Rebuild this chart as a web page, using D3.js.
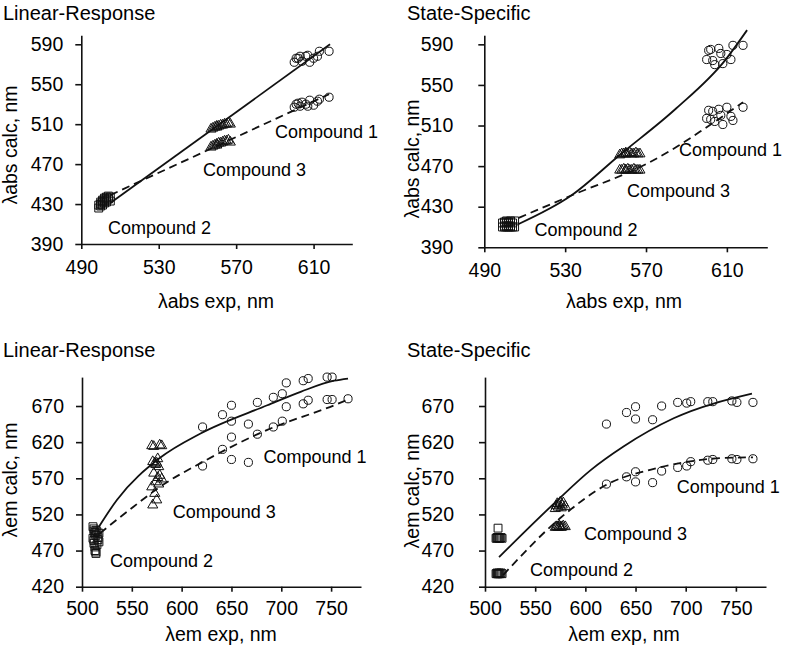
<!DOCTYPE html>
<html><head><meta charset="utf-8">
<script src="https://cdn.jsdelivr.net/npm/d3@7"></script>
<style>
body{margin:0;background:#fff;}
svg text{font-family:"Liberation Sans",Arial,sans-serif;fill:#000;}
</style>
</head><body>
<svg id="chart" width="785" height="647"></svg>
<script>
// ---------------- tick labels ----------------
const absXTicks = [490, 530, 570, 610];
const absYTicks = [390, 430, 470, 510, 550, 590];
const emXTicks = [500, 550, 600, 650, 700, 750];
const emYTicks = [420, 470, 520, 570, 620, 670];

// ---------------- experimental wavelengths (x values) ----------------
const absExpC1 = [600, 601, 602, 603, 604, 606, 607, 608, 610, 612, 613, 618];
const absExpC2 = [499, 500, 500, 501, 501, 502, 502, 503, 503, 504, 505];
const absExpC3 = [557, 558, 559, 560, 560, 561, 562, 563, 564, 565, 566, 567];
const emExpC1 = [621, 641, 650, 650, 667, 676, 692, 701, 705, 722, 727, 746, 751, 767];
const emExpC2 = [511, 512, 512, 513, 513, 514, 514, 515, 516, 517];
const emExpC3 = [570, 571, 572, 573, 574, 575, 576, 577, 578, 580];

// ---------------- calculated wavelengths (A = solid-fit set, B = dashed-fit set) ----------------
// Linear-Response, absorption
const lrAbsA_C1 = [572, 576, 576, 578, 573, 578, 579, 572, 576, 578, 583, 583];
const lrAbsB_C1 = [527, 530, 531, 528, 532, 530, 528, 534, 529, 533, 535, 537];
const lrAbsA_C2 = [426, 428, 430, 429, 432, 431, 433, 432, 434, 435, 433];
const lrAbsB_C2 = [429, 430, 432, 433, 434, 435, 436, 437, 436, 438, 437];
const lrAbsA_C3 = [505, 506, 507, 507, 508, 508, 509, 509, 510, 510, 511, 510];
const lrAbsB_C3 = [487, 488, 489, 489, 490, 491, 491, 492, 493, 493, 494, 492];
// State-Specific, absorption
const ssAbsA_C1 = [575, 584, 585, 574, 570, 586, 581, 571, 580, 575, 589, 589];
const ssAbsB_C1 = [517, 525, 516, 524, 514, 526, 520, 511, 528, 519, 515, 528];
const ssAbsA_C2 = [410, 410, 411, 410, 411, 410, 411, 410, 411, 410, 410];
const ssAbsB_C2 = [414, 415, 414, 416, 415, 414, 415, 416, 415, 414, 416];
const ssAbsA_C3 = [481, 482, 482, 483, 482, 482, 483, 482, 482, 483, 482, 482];
const ssAbsB_C3 = [466, 466, 467, 466, 466, 467, 466, 466, 467, 466, 466, 466];
// Linear-Response, emission
const lrEmA_C1 = [641, 658, 671, 649, 645, 675, 682, 687, 702, 705, 708, 710, 710, null];
const lrEmB_C1 = [587, 610, 627, 596, 592, 631, 641, 649, 669, 673, 678, 679, 679, 680];
const lrEmA_C2 = [503, 500, 497, 495, 493, 498, 491, 496, 488, 494];
const lrEmB_C2 = [487, 484, 480, 475, 470, 468, 466, 478, 485, 482];
const lrEmA_C3 = [615, 593, 614, 591, 589, 591, 597, 586, 616, 615];
const lrEmB_C3 = [558, 533, 577, 549, 565, 540, 571, 562, 574, 569];
// State-Specific, emission
const ssEmA_C1 = [645, 661, 669, 652, 651, 670, 675, 674, 676, 676, 676, 677, 675, 675];
const ssEmB_C1 = [562, 572, 579, 565, 564, 580, 585, 587, 593, 595, 596, 597, 596, 597];
const ssEmA_C2 = [487, 488, 487, 501, 488, 487, 488, 487, 488, 487];
const ssEmB_C2 = [438, 438, 439, 438, 438, 439, 438, 438, 439, 438];
const ssEmA_C3 = [528, 532, 535, 530, 534, 537, 529, 533, 536, 531];
const ssEmB_C3 = [502, 503, 503, 502, 504, 503, 502, 503, 504, 503];

// ---------------- trend lines ----------------
const lrAbsFitA_x = [505, 618.5], lrAbsFitA_y = [431, 590];
const lrAbsFitB_x = [505, 618], lrAbsFitB_y = [439, 540];
const ssAbsFitA_x = [507, 533, 557, 585, 609, 620], ssAbsFitA_y = [413, 441, 481, 527, 574, 604];
const ssAbsFitB_x = [507, 533, 571, 586, 599, 618], ssAbsFitB_y = [419, 441, 473, 490, 507, 533];
const lrEmFitA_x = [517, 535, 578, 619, 686, 720, 753, 767], lrEmFitA_y = [503, 540, 598, 632, 671, 690, 705, 708];
const lrEmFitB_x = [518, 552, 578, 619, 686, 753, 767], lrEmFitB_y = [494, 531, 558, 591, 637, 671, 679];
const ssEmFitA_x = [514, 571, 605, 638, 688, 766], ssEmFitA_y = [461, 538, 581, 614, 653, 687];
const ssEmFitB_x = [518, 575, 621, 671, 737, 767], ssEmFitB_y = [436, 515, 561, 584, 598, 599];

const compoundNames = ["Compound 1", "Compound 2", "Compound 3"];

// ---------------- panel layout ----------------
const panels = [
  { title: "Linear-Response", tx: 3, ty: 20,
    xLabel: "λabs exp, nm", yLabel: "λabs calc, nm",
    xDomain: [490, 630], yDomain: [390, 599], xTicks: absXTicks, yTicks: absYTicks,
    xr: [81.3, 352.3], yr: [244, 35.3], yPad: 12, xPad: 11,
    xlx: 216, xly: 308, ylx: 17, yly: 145,
    exp: [absExpC1, absExpC2, absExpC3],
    setA: [lrAbsA_C1, lrAbsA_C2, lrAbsA_C3], setB: [lrAbsB_C1, lrAbsB_C2, lrAbsB_C3],
    fitA: [lrAbsFitA_x, lrAbsFitA_y], fitB: [lrAbsFitB_x, lrAbsFitB_y],
    labels: [[590.1, 496.2], [503.8, 400.1], [552.9, 458.1]] },
  { title: "State-Specific", tx: 407, ty: 20,
    xLabel: "λabs exp, nm", yLabel: "λabs calc, nm",
    xDomain: [490, 630], yDomain: [390, 599], xTicks: absXTicks, yTicks: absYTicks,
    xr: [484.3, 767.3], yr: [247.3, 35.2], yPad: 25, xPad: 11,
    xlx: 624, xly: 308, ylx: 419, yly: 159,
    exp: [absExpC1, absExpC2, absExpC3],
    setA: [ssAbsA_C1, ssAbsA_C2, ssAbsA_C3], setB: [ssAbsB_C1, ssAbsB_C2, ssAbsB_C3],
    fitA: [ssAbsFitA_x, ssAbsFitA_y], fitB: [ssAbsFitB_x, ssAbsFitB_y],
    labels: [[586.3, 480.4], [514.8, 400.7], [560.6, 440]] },
  { title: "Linear-Response", tx: 3, ty: 357,
    xLabel: "λem exp, nm", yLabel: "λem calc, nm",
    xDomain: [500, 780], yDomain: [420, 710], xTicks: emXTicks, yTicks: emYTicks,
    xr: [82, 361], yr: [586.7, 377.1], yPad: 12, xPad: 9,
    xlx: 221, xly: 641, ylx: 17, yly: 480,
    exp: [emExpC1, emExpC2, emExpC3],
    setA: [lrEmA_C1, lrEmA_C2, lrEmA_C3], setB: [lrEmB_C1, lrEmB_C2, lrEmB_C3],
    fitA: [lrEmFitA_x, lrEmFitA_y], fitB: [lrEmFitB_x, lrEmFitB_y],
    labels: [[682.2, 591.2], [528.1, 447.7], [591.1, 515.6]] },
  { title: "State-Specific", tx: 407, ty: 357,
    xLabel: "λem exp, nm", yLabel: "λem calc, nm",
    xDomain: [500, 780], yDomain: [420, 710], xTicks: emXTicks, yTicks: emYTicks,
    xr: [485, 766], yr: [586.7, 377.1], yPad: 25, xPad: 9,
    xlx: 624, xly: 641, ylx: 419, yly: 491,
    exp: [emExpC1, emExpC2, emExpC3],
    setA: [ssEmA_C1, ssEmA_C2, ssEmA_C3], setB: [ssEmB_C1, ssEmB_C2, ssEmB_C3],
    fitA: [ssEmFitA_x, ssEmFitA_y], fitB: [ssEmFitB_x, ssEmFitB_y],
    labels: [[691, 549.7], [544.8, 434.9], [598.6, 484.7]] }
];

const svg = d3.select("#chart");
const INK = "#111";
const symbolTypes = [d3.symbolCircle, d3.symbolSquare, d3.symbolTriangle];
const symbolSizes = [52, 62, 44];

panels.forEach(p => {
  const g = svg.append("g");
  const x = d3.scaleLinear().domain(p.xDomain).range(p.xr);
  const y = d3.scaleLinear().domain(p.yDomain).range(p.yr);

  g.append("text").attr("x", p.tx).attr("y", p.ty)
    .attr("font-size", 20).text(p.title);

  const xa = g.append("g").attr("transform", `translate(0,${p.yr[0]})`)
    .call(d3.axisBottom(x).tickValues(p.xTicks).tickSize(5).tickSizeOuter(0).tickPadding(p.xPad).tickFormat(d3.format("d")));
  const ya = g.append("g").attr("transform", `translate(${p.xr[0]},0)`)
    .call(d3.axisLeft(y).tickValues(p.yTicks).tickSize(6).tickSizeOuter(0).tickPadding(p.yPad).tickFormat(d3.format("d")));
  [xa, ya].forEach(a => {
    a.attr("font-size", 19.5).attr("font-family", null);
    a.selectAll("path,line").attr("stroke", INK).attr("stroke-width", 1.6);
    a.selectAll("text").attr("fill", "#000");
  });

  g.append("text").attr("x", p.xlx).attr("y", p.xly).attr("text-anchor", "middle")
    .attr("font-size", 19.5).text(p.xLabel);
  g.append("text").attr("transform", `translate(${p.ylx},${p.yly}) rotate(-90)`)
    .attr("text-anchor", "middle").attr("font-size", 19.5).text(p.yLabel);

  const line = d3.line().x(d => x(d[0])).y(d => y(d[1])).curve(d3.curveMonotoneX);
  const fitPts = f => f[0].map((v, i) => [v, f[1][i]]);
  g.append("path").attr("d", line(fitPts(p.fitA)))
    .attr("fill", "none").attr("stroke", INK).attr("stroke-width", 1.8);
  g.append("path").attr("d", line(fitPts(p.fitB)))
    .attr("fill", "none").attr("stroke", INK).attr("stroke-width", 1.8)
    .attr("stroke-dasharray", "8,5");

  [0, 1, 2].forEach(c => {
    const sym = d3.symbol().type(symbolTypes[c]).size(symbolSizes[c]);
    [p.setA[c], p.setB[c]].forEach(vals => {
      const pts = p.exp[c].map((ex, i) => [ex, vals[i]]).filter(d => d[1] != null);
      g.selectAll(null).data(pts).enter().append("path")
        .attr("d", sym)
        .attr("transform", d => `translate(${x(d[0])},${y(d[1])})`)
        .attr("fill", "none").attr("stroke", INK).attr("stroke-width", 1);
    });
  });

  p.labels.forEach((l, i) => {
    g.append("text").attr("x", x(l[0])).attr("y", y(l[1]))
      .attr("font-size", 18).text(compoundNames[i]);
  });
});
</script>
</body></html>
